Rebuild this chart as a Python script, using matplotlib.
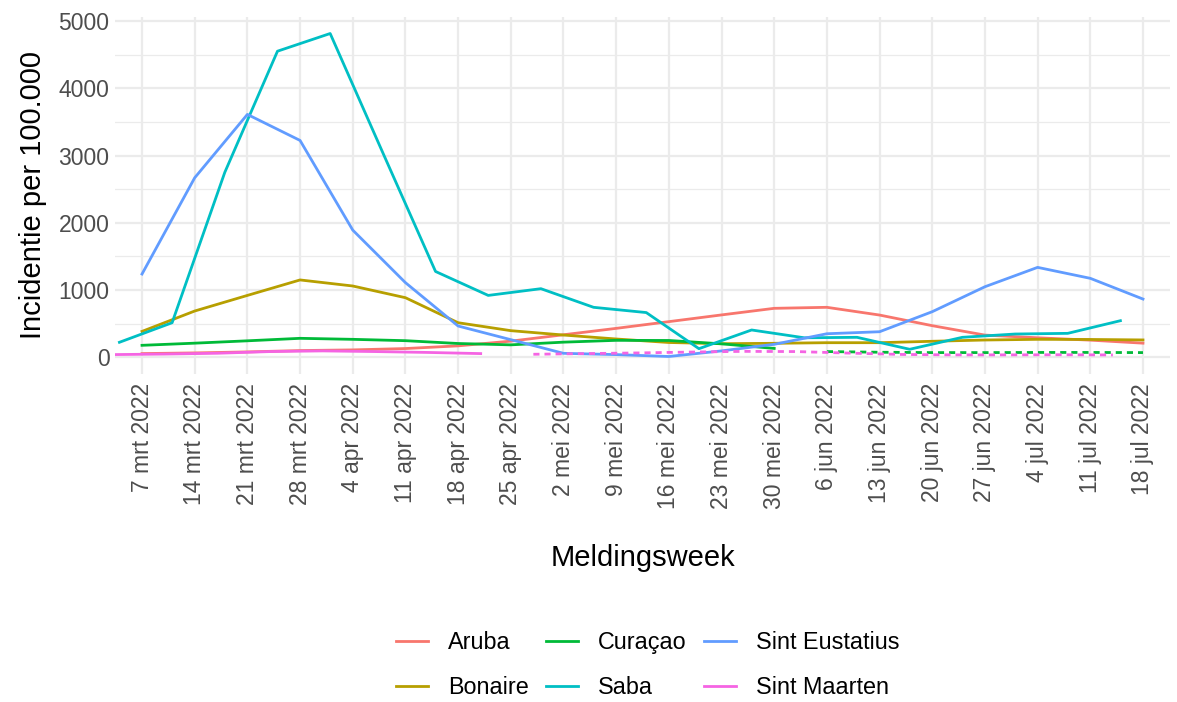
#!/usr/bin/env python3
"""Incidentie per 100.000 per meldingsweek, Caribisch deel van het Koninkrijk."""

import pandas as pd
from matplotlib import pyplot as plt
from matplotlib.ticker import MultipleLocator

plt.rcParams["font.family"] = ["Liberation Sans", "DejaVu Sans"]

# weekly series (Mondays) for Aruba, Bonaire, Curacao, Sint Eustatius
aruba = [55, 65, 80, 100, 110, 130, 170, 240, 335, 430, 530, 630, 728, 743,
         628, 470, 330, 290, 255, 210]
bonaire = [385, 688, 920, 1150, 1060, 886, 514, 396, 331, 272, 220, 202, 208,
           217, 217, 238, 257, 267, 265, 258]
curacao = [178, 210, 245, 282, 267, 247, 205, 185, 225, 252, 250, 200, 132]
curacao_dotted = [85, 75, 70, 70, 72, 72, 70]
sint_eustatius = [1238, 2669, 3611, 3224, 1891, 1110, 465, 262, 59, 40, 12,
                  95, 193, 350, 380, 678, 1049, 1337, 1174, 866]
# Saba reported on Fridays
saba = [223, 514, 2750, 4551, 4814, 3040, 1276, 920, 1020, 743, 665, 128,
        406, 290, 297, 119, 297, 346, 356, 544]
# Sint Maarten reported on Thursdays
sint_maarten = [40, 48, 60, 85, 95, 85, 72, 55]
sint_maarten_dotted = [45, 55, 65, 78, 88, 85, 62, 42, 36, 36, 38, 35]

tick_labels = ["7 mrt 2022", "14 mrt 2022", "21 mrt 2022", "28 mrt 2022",
               "4 apr 2022", "11 apr 2022", "18 apr 2022", "25 apr 2022",
               "2 mei 2022", "9 mei 2022", "16 mei 2022", "23 mei 2022",
               "30 mei 2022", "6 jun 2022", "13 jun 2022", "20 jun 2022",
               "27 jun 2022", "4 jul 2022", "11 jul 2022", "18 jul 2022"]

mondays = pd.date_range("2022-03-07", periods=len(aruba), freq="7D")
fridays = pd.date_range("2022-03-04", periods=len(saba), freq="7D")
sxm_solid_dates = pd.date_range("2022-03-03", periods=len(sint_maarten), freq="7D")
sxm_dot_dates = pd.date_range("2022-04-28", periods=len(sint_maarten_dotted), freq="7D")
cur_dot_dates = pd.date_range("2022-06-06", periods=len(curacao_dotted), freq="7D")

colors = {
    "Aruba": "#F8766D",
    "Bonaire": "#B79F00",
    "Curaçao": "#00BA38",
    "Saba": "#00BFC4",
    "Sint Eustatius": "#619CFF",
    "Sint Maarten": "#F564E3",
}

W, H = 1177, 702
fig = plt.figure(figsize=(W / 100, H / 100), dpi=100)
left, right, top, bottom = 115, 1170, 17.3, 373.5
ax = fig.add_axes([left / W, 1 - bottom / H, (right - left) / W, (bottom - top) / H])

lw = 2.0
dots = (0, (2.2, 1.8))
ax.plot(mondays, aruba, color=colors["Aruba"], lw=lw, label="Aruba")
ax.plot(mondays, bonaire, color=colors["Bonaire"], lw=lw, label="Bonaire")
ax.plot(mondays[:len(curacao)], curacao, color=colors["Curaçao"], lw=lw, label="Curaçao")
ax.plot(cur_dot_dates, curacao_dotted, color=colors["Curaçao"], lw=lw, ls=dots)
ax.plot(fridays, saba, color=colors["Saba"], lw=lw, label="Saba")
ax.plot(mondays, sint_eustatius, color=colors["Sint Eustatius"], lw=lw,
        label="Sint Eustatius")
ax.plot(sxm_solid_dates, sint_maarten, color=colors["Sint Maarten"], lw=lw,
        label="Sint Maarten")
ax.plot(sxm_dot_dates, sint_maarten_dotted, color=colors["Sint Maarten"], lw=lw, ls=dots)

pad = pd.Timedelta(days=3.59)
ax.set_xlim(mondays[0] - pad, mondays[-1] + pad)
ax.set_ylim(-241, 5055)

ax.set_xticks(mondays)
ax.set_xticklabels(tick_labels, rotation=90, va="top", ha="center")
ax.yaxis.set_major_locator(MultipleLocator(1000))
ax.yaxis.set_minor_locator(MultipleLocator(500))

ax.grid(True, which="major", color="#EBEBEB", lw=1.6)
ax.grid(True, which="minor", axis="y", color="#EBEBEB", lw=0.9)
ax.set_axisbelow(True)
for s in ax.spines.values():
    s.set_visible(False)
ax.tick_params(which="both", length=0, labelsize=16.5, labelcolor="#4D4D4D")
ax.tick_params(axis="x", pad=7)
ax.tick_params(axis="y", pad=4)

ax.set_xlabel("Meldingsweek", fontsize=21, labelpad=25)
ax.set_ylabel("Incidentie per 100.000", fontsize=21, labelpad=8)

fig.legend(loc="center", bbox_to_anchor=(648 / W, 1 - 665 / H), ncol=3,
           frameon=False, fontsize=16.8, handlelength=1.37, handletextpad=0.86,
           columnspacing=0.75, labelspacing=0.95)

fig.savefig("out.png", dpi=100)
